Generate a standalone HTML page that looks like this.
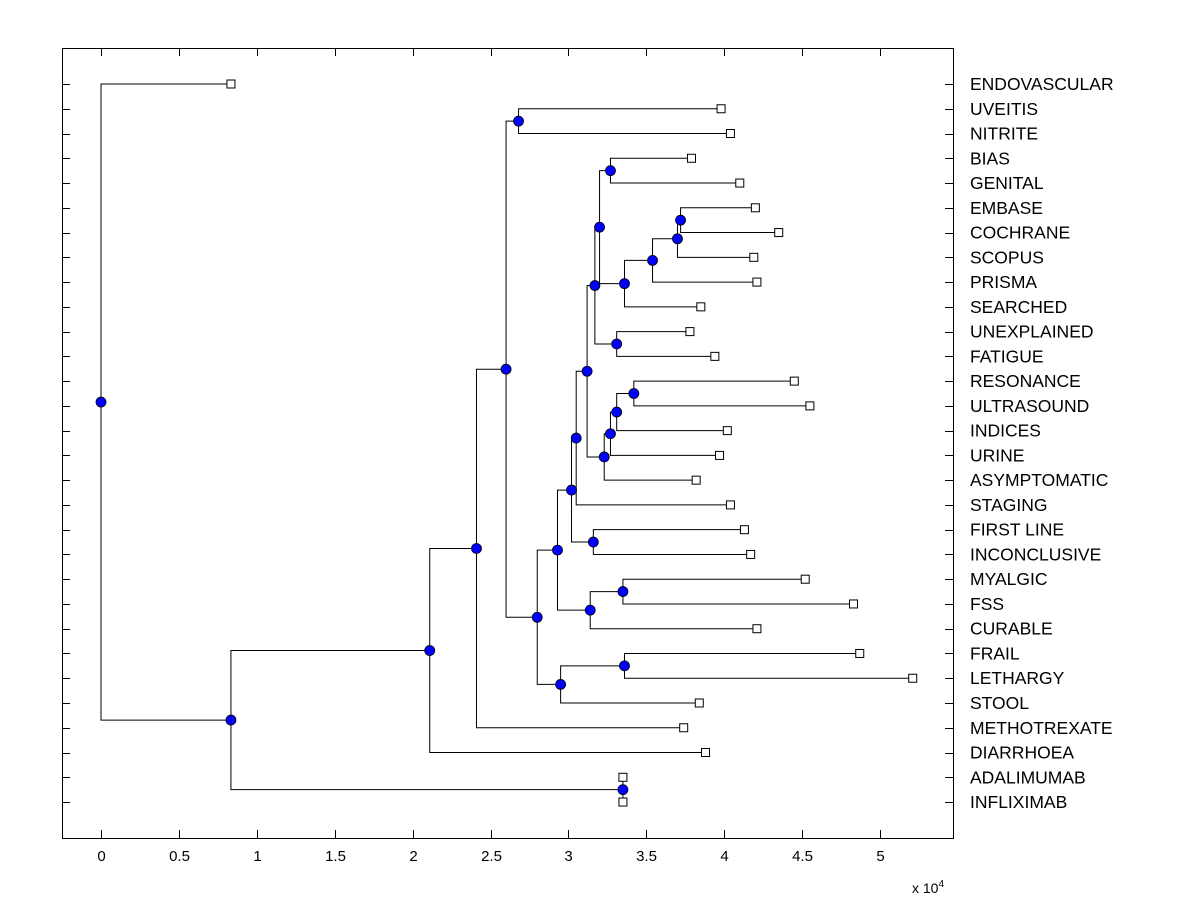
<!DOCTYPE html>
<html><head><meta charset="utf-8"><style>body{margin:0;background:#fff}svg text{font-family:"Liberation Sans",sans-serif}</style></head>
<body>
<svg id="chart" width="1200" height="900"></svg>
<script>
const leafNames=["ENDOVASCULAR","UVEITIS","NITRITE","BIAS","GENITAL","EMBASE","COCHRANE","SCOPUS","PRISMA","SEARCHED","UNEXPLAINED","FATIGUE","RESONANCE","ULTRASOUND","INDICES","URINE","ASYMPTOMATIC","STAGING","FIRST LINE","INCONCLUSIVE","MYALGIC","FSS","CURABLE","FRAIL","LETHARGY","STOOL","METHOTREXATE","DIARRHOEA","ADALIMUMAB","INFLIXIMAB"];
const leafValues=[0.834,3.98,4.04,3.79,4.10,4.20,4.35,4.19,4.21,3.85,3.78,3.94,4.45,4.55,4.02,3.97,3.82,4.04,4.13,4.17,4.52,4.83,4.21,4.87,5.21,3.84,3.74,3.88,3.35,3.35];
// merges: node id = 30 + index
const mergeLeft=[1,3,5,32,33,34,31,10,36,12,39,40,41,38,43,18,44,20,47,46,23,50,49,30,53,54,28,55,0];
const mergeRight=[2,4,6,7,8,9,35,11,37,13,14,15,16,42,17,19,45,21,22,48,24,25,51,52,26,27,29,56,57];
const mergeHeights=[2.68,3.27,3.72,3.70,3.54,3.36,3.20,3.31,3.17,3.42,3.31,3.27,3.23,3.12,3.05,3.16,3.02,3.35,3.14,2.93,3.36,2.95,2.80,2.60,2.41,2.11,3.35,0.834,0];
const xTicks=[0,0.5,1,1.5,2,2.5,3,3.5,4,4.5,5];
</script>
<script>
const NS="http://www.w3.org/2000/svg",svg=document.getElementById('chart');
const X0=62,X1=953,Y0=48,Y1=838;
const sx=v=>101+v*155.8, sy=i=>84+i*24.76;
function mk(t,a,p){const e=document.createElementNS(NS,t);for(const k in a)e.setAttribute(k,a[k]);(p||svg).appendChild(e);return e;}
const frame=mk('rect',{x:X0+.5,y:Y0+.5,width:X1-X0,height:Y1-Y0,fill:'none',stroke:'#000'});


xTicks.forEach(t=>{const x=Math.round(sx(t))+.5;
 mk('line',{x1:x,x2:x,y1:Y1,y2:Y1-8,stroke:'#000'});mk('line',{x1:x,x2:x,y1:Y0,y2:Y0+8,stroke:'#000'});
 const tx=mk('text',{x:x,y:861,'font-size':15,'text-anchor':'middle'});tx.textContent=String(t);
 
 });
const ex=mk('text',{x:912,y:893,'font-size':14});ex.innerHTML='x 10<tspan dy="-6" font-size="10">4</tspan>';


const pos={};
leafNames.forEach((n,i)=>{const y=Math.round(sy(i))+.5;pos[i]={x:sx(leafValues[i]),y:sy(i)};
 mk('line',{x1:X0,x2:X0+8,y1:y,y2:y,stroke:'#000'});mk('line',{x1:X1-8,x2:X1,y1:y,y2:y,stroke:'#000'});
 const t=mk('text',{x:970,y:sy(i)+6,'font-size':17.5});t.textContent=n;
 
 });
const g=mk('g',{});const dots=[];
mergeLeft.forEach((a,k)=>{const b=mergeRight[k],x=sx(mergeHeights[k]);const pa=pos[a],pb=pos[b];if(!pa||!pb)return;const y=(pa.y+pb.y)/2;pos[30+k]={x:x,y:y};
 const p=mk('path',{d:`M${pa.x},${pa.y}H${x}V${pb.y}H${pb.x}`,fill:'none',stroke:'#000','stroke-width':1},g);
 
 
 dots.push([x,y]);});
leafNames.forEach((n,i)=>{const r=mk('rect',{x:pos[i].x-4,y:pos[i].y-4,width:8,height:8,fill:'#fff',stroke:'#000'});
 
 });
dots.forEach(d=>{const c=mk('circle',{cx:d[0],cy:d[1],r:5,fill:'#0000ff',stroke:'#000','stroke-width':0.8});
 
 });
</script>
</body></html>
